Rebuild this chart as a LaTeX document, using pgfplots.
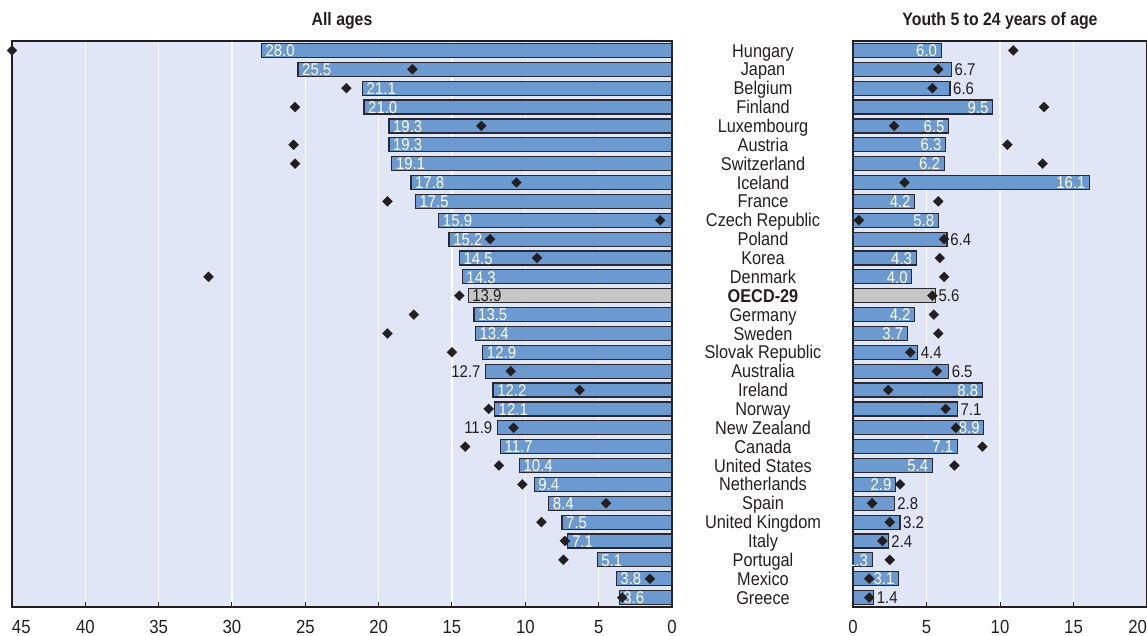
\documentclass[border=0pt]{standalone}
\usepackage{pgfplots}
\pgfplotsset{compat=1.18}
\usepackage{pgfplotstable}
\usepackage{fontspec}
\setmainfont{Liberation Sans}[FakeStretch=0.88]
\definecolor{barblue}{RGB}{108,153,208}
\definecolor{bgc}{RGB}{224,230,245}
\definecolor{oecdgray}{RGB}{198,198,198}
\definecolor{txt}{RGB}{35,31,32}
\definecolor{edge}{RGB}{40,40,50}

\pgfplotstableread{
idx all alldia youth youthdia allout youthout oecd
0  28.0 45.0 6.0  10.9 0 0 0
1  25.5 17.7 6.7  5.8  0 1 0
2  21.1 22.2 6.6  5.4  0 1 0
3  21.0 25.7 9.5  13.0 0 0 0
4  19.3 13.0 6.5  2.8  0 0 0
5  19.3 25.8 6.3  10.5 0 0 0
6  19.1 25.7 6.2  12.9 0 0 0
7  17.8 10.6 16.1 3.5  0 0 0
8  17.5 19.4 4.2  5.8  0 0 0
9  15.9 0.8  5.8  0.4  0 0 0
10 15.2 12.4 6.4  6.2  0 1 0
11 14.5 9.2  4.3  5.9  0 0 0
12 14.3 31.6 4.0  6.2  0 0 0
13 13.9 14.5 5.6  5.4  0 1 1
14 13.5 17.6 4.2  5.5  0 0 0
15 13.4 19.4 3.7  5.8  0 0 0
16 12.9 15.0 4.4  3.9  0 1 0
17 12.7 11.0 6.5  5.7  1 1 0
18 12.2 6.3  8.8  2.4  0 0 0
19 12.1 12.5 7.1  6.3  0 1 0
20 11.9 10.8 8.9  7.0  1 0 0
21 11.7 14.1 7.1  8.8  0 0 0
22 10.4 11.8 5.4  6.9  0 0 0
23 9.4  10.2 2.9  3.2  0 0 0
24 8.4  4.5  2.8  1.3  0 1 0
25 7.5  8.9  3.2  2.5  0 1 0
26 7.1  7.3  2.4  2.0  0 1 0
27 5.1  7.4  1.3  2.5  0 0 0
28 3.8  1.5  3.1  1.1  0 0 0
29 3.6  3.4  1.4  1.1  0 1 0
}\data

\pgfplotsset{
  panel/.style={
    scale only axis, height=566bp, anchor=south west,
    y dir=reverse, ymin=-0.5, ymax=29.5, xmin=0,
    axis background/.style={fill=bgc},
    axis line style={draw=txt, line width=1.4bp},
    xmajorgrids, grid style={white, line width=1.3bp},
    xtick pos=lower, ytick pos=left, tick align=inside, major tick length=5bp,
    tick style={draw=txt, line width=1bp},
    ytick style={draw=none},
    xticklabel style={font=\fontsize{19bp}{21bp}\selectfont, text=txt, anchor=base, yshift=-26bp},
    /pgf/number format/assume math mode=true,
    clip=false,
    title style={font=\fontsize{18bp}{20bp}\selectfont\bfseries, text=txt, at={(0.5,1)}, anchor=base, yshift=10bp},
  },
  bars/.style={xbar, bar width=14bp, bar shift=0pt, draw=edge, line width=1.2bp},
  dia/.style={only marks, mark=square*, mark size=3.5bp, mark options={rotate=45, fill=txt, draw=txt, line width=0.3bp}},
  lab/.style={only marks, mark=*, mark size=0pt, point meta=explicit,
    nodes near coords={\pgfmathprintnumber[fixed,fixed zerofill,precision=1]{\pgfplotspointmeta}},
    nodes near coords style={font=\fontsize{17bp}{19bp}\selectfont, inner sep=0pt, yshift=-6.2bp}},
}

\begin{document}
\begin{tikzpicture}
\useasboundingbox (0,0) rectangle (1147bp,636bp);
% Left panel: all ages
\begin{axis}[panel, at={(12bp,29bp)}, width=660bp, xmax=45, x dir=reverse,
  title={All ages},
  xtick={0,5,10,15,20,25,30,35,40,45},
  xticklabels={0,5,10,15,20,25,30,35,40,\rlap{45}},
  ytick=\empty]
\addplot[bars, fill=barblue, restrict expr to domain={\thisrow{oecd}}{0:0}] table[x=all, y=idx] \data;
\addplot[bars, fill=oecdgray, restrict expr to domain={\thisrow{oecd}}{1:1}] table[x=all, y=idx] \data;
\addplot[lab, restrict expr to domain={\thisrow{allout}+\thisrow{oecd}}{0:0},
  every node near coord/.append style={anchor=base west, xshift=4bp, text=white}]
  table[x=all, y=idx, meta=all] \data;
\addplot[lab, restrict expr to domain={\thisrow{oecd}}{1:1},
  every node near coord/.append style={anchor=base west, xshift=4bp, text=txt}]
  table[x=all, y=idx, meta=all] \data;
\addplot[lab, restrict expr to domain={\thisrow{allout}}{1:1},
  every node near coord/.append style={anchor=base east, xshift=-5bp, text=txt}]
  table[x=all, y=idx, meta=all] \data;
\addplot[dia] table[x=alldia, y=idx] \data;
\end{axis}
% Right panel: youth
\begin{axis}[panel, at={(853bp,29bp)}, width=294bp, xmax=20,
  title={Youth 5 to 24 years of age},
  xtick={0,5,10,15,20},
  xticklabels={0,5,10,15,\llap{20}},
  ytick={0,...,29},
  yticklabels={Hungary,Japan,Belgium,Finland,Luxembourg,Austria,Switzerland,Iceland,France,Czech Republic,Poland,Korea,Denmark,\textbf{OECD-29},Germany,Sweden,Slovak Republic,Australia,Ireland,Norway,New Zealand,Canada,United States,Netherlands,Spain,United Kingdom,Italy,Portugal,Mexico,Greece},
  yticklabel style={font=\fontsize{18.5bp}{20bp}\selectfont, text=txt, anchor=base, xshift=-90bp, yshift=-6.6bp, inner sep=0pt}]
\addplot[bars, fill=barblue, restrict expr to domain={\thisrow{oecd}}{0:0}] table[x=youth, y=idx] \data;
\addplot[bars, fill=oecdgray, restrict expr to domain={\thisrow{oecd}}{1:1}] table[x=youth, y=idx] \data;
\addplot[lab, restrict expr to domain={\thisrow{youthout}}{0:0},
  every node near coord/.append style={anchor=base east, xshift=-4bp, text=white}]
  table[x=youth, y=idx, meta=youth] \data;
\addplot[lab, restrict expr to domain={\thisrow{youthout}}{1:1},
  every node near coord/.append style={anchor=base west, xshift=3bp, text=txt}]
  table[x=youth, y=idx, meta=youth] \data;
\addplot[dia] table[x=youthdia, y=idx] \data;
\end{axis}
\end{tikzpicture}
\end{document}
